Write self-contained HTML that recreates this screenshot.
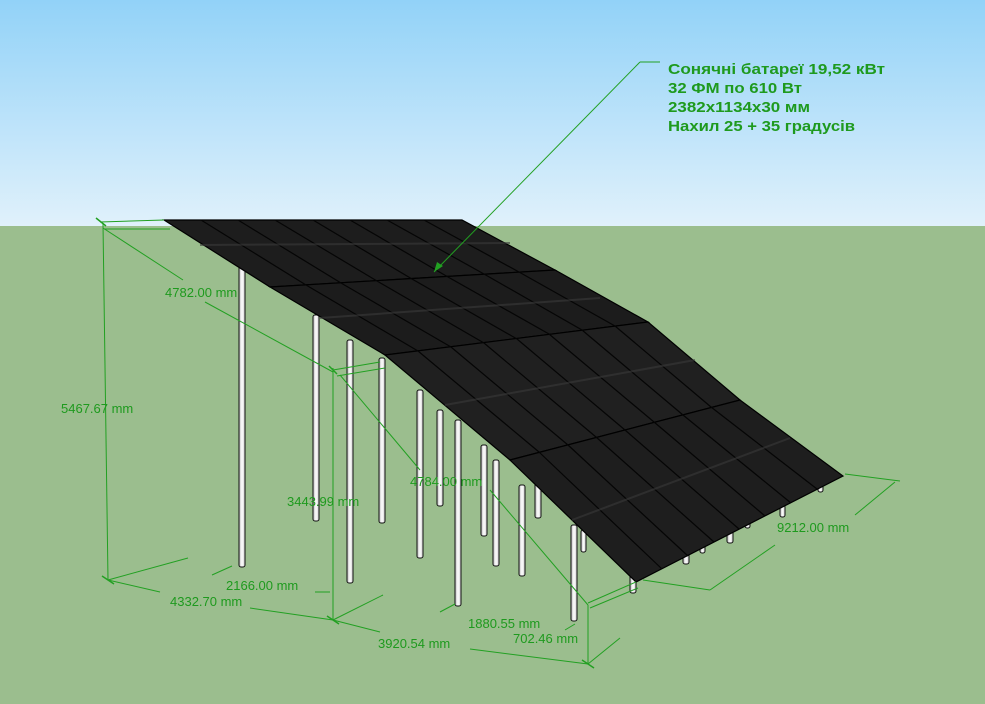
<!DOCTYPE html>
<html><head><meta charset="utf-8"><style>
html,body{margin:0;padding:0;width:985px;height:704px;overflow:hidden}
svg{display:block}
text{font-family:"Liberation Sans","DejaVu Sans",sans-serif;fill:#1e9a1e}
</style></head><body>
<svg width="985" height="704" viewBox="0 0 985 704" xmlns="http://www.w3.org/2000/svg">
<defs>
<linearGradient id="sky" x1="0" y1="0" x2="0" y2="1">
<stop offset="0" stop-color="#92d2f8"/><stop offset="1" stop-color="#e0f1fb"/>
</linearGradient>
<linearGradient id="post" x1="0" y1="0" x2="1" y2="0">
<stop offset="0" stop-color="#bbb"/><stop offset=".5" stop-color="#fff"/><stop offset="1" stop-color="#ccc"/>
</linearGradient>
</defs>
<rect width="985" height="226" fill="url(#sky)"/>
<rect y="226" width="985" height="478" fill="#9bbe8e"/>

<!-- posts -->
<g stroke="#111" stroke-width="1" fill="url(#post)">
<rect x="239" y="265" width="6" height="302" rx="2"/>
<rect x="313" y="315" width="6" height="206" rx="2"/>
<rect x="347" y="340" width="6" height="243" rx="2"/>
<rect x="379" y="358" width="6" height="165" rx="2"/>
<rect x="417" y="390" width="6" height="168" rx="2"/>
<rect x="437" y="410" width="6" height="96" rx="2"/>
<rect x="455" y="420" width="6" height="186" rx="2"/>
<rect x="481" y="445" width="6" height="91" rx="2"/>
<rect x="493" y="460" width="6" height="106" rx="2"/>
<rect x="519" y="485" width="6" height="91" rx="2"/>
<rect x="535" y="480" width="6" height="38" rx="2"/>
<rect x="571" y="525" width="6" height="96" rx="2"/>
<rect x="581" y="530" width="5" height="22" rx="2"/>
<rect x="630" y="575" width="6" height="18" rx="2"/>
<rect x="683" y="548" width="6" height="16" rx="2"/>
<rect x="700" y="543" width="5" height="10" rx="2"/>
<rect x="727" y="528" width="6" height="15" rx="2"/>
<rect x="745" y="518" width="5" height="10" rx="2"/>
<rect x="780" y="505" width="5" height="12" rx="2"/>
<rect x="818" y="484" width="5" height="8" rx="2"/>
</g>

<!-- panels -->
<g stroke="#000" stroke-width="1.2">
<polygon points="164,220 462,220 555,270 270,287" fill="#1d1d1d"/>
<polygon points="270,287 555,270 648,322 385,355" fill="#1c1c1c"/>
<polygon points="385,355 648,322 740,400 510,460" fill="#202020"/>
<polygon points="510,460 740,400 843,476 636,582" fill="#1e1e1e"/>
</g>
<g stroke="#050505" stroke-width="1.2">
<!-- row1 columns -->
<line x1="201" y1="220" x2="306" y2="285"/><line x1="238" y1="220" x2="341" y2="283"/>
<line x1="275" y1="220" x2="377" y2="281"/><line x1="313" y1="220" x2="412" y2="279"/>
<line x1="350" y1="220" x2="448" y2="277"/><line x1="387" y1="220" x2="484" y2="274"/>
<line x1="424" y1="220" x2="519" y2="272"/>
<!-- row2 -->
<line x1="306" y1="285" x2="418" y2="351"/><line x1="341" y1="283" x2="451" y2="347"/>
<line x1="377" y1="281" x2="484" y2="343"/><line x1="412" y1="279" x2="517" y2="339"/>
<line x1="448" y1="277" x2="549" y2="334"/><line x1="484" y1="274" x2="582" y2="330"/>
<line x1="519" y1="272" x2="615" y2="326"/>
<!-- row3 -->
<line x1="418" y1="351" x2="539" y2="452"/><line x1="451" y1="347" x2="568" y2="445"/>
<line x1="484" y1="343" x2="596" y2="437"/><line x1="517" y1="339" x2="625" y2="430"/>
<line x1="549" y1="334" x2="654" y2="422"/><line x1="582" y1="330" x2="683" y2="415"/>
<line x1="615" y1="326" x2="711" y2="407"/>
<!-- row4 -->
<line x1="539" y1="452" x2="662" y2="569"/><line x1="568" y1="445" x2="688" y2="556"/>
<line x1="596" y1="437" x2="714" y2="542"/><line x1="625" y1="430" x2="739" y2="529"/>
<line x1="654" y1="422" x2="765" y2="516"/><line x1="683" y1="415" x2="791" y2="503"/>
<line x1="711" y1="407" x2="817" y2="489"/>
</g>
<g stroke="#3a3a3a" stroke-width="2" opacity=".6">
<line x1="200" y1="245" x2="510" y2="243"/>
<line x1="320" y1="318" x2="600" y2="298"/>
<line x1="445" y1="405" x2="695" y2="360"/>
<line x1="572" y1="520" x2="790" y2="438"/>
</g>

<!-- dimension lines -->
<g stroke="#22a022" stroke-width="1" fill="none">
<line x1="100" y1="222" x2="164" y2="220"/>
<line x1="104" y1="229" x2="170" y2="229"/>
<line x1="103" y1="224" x2="108" y2="580"/>
<line x1="103" y1="228" x2="183" y2="280"/>
<line x1="205" y1="302" x2="333" y2="372"/>
<line x1="333" y1="368" x2="333" y2="620"/>
<line x1="333" y1="370" x2="380" y2="362"/>
<line x1="337" y1="376" x2="385" y2="368"/>
<line x1="340" y1="375" x2="420" y2="470"/>
<line x1="490" y1="490" x2="588" y2="605"/>
<line x1="108" y1="580" x2="188" y2="558"/>
<line x1="108" y1="580" x2="160" y2="592"/>
<line x1="250" y1="608" x2="333" y2="620"/>
<line x1="212" y1="575" x2="232" y2="566"/>
<line x1="315" y1="592" x2="330" y2="592"/>
<line x1="333" y1="620" x2="383" y2="595"/>
<line x1="333" y1="620" x2="380" y2="632"/>
<line x1="470" y1="649" x2="588" y2="664"/>
<line x1="440" y1="612" x2="455" y2="604"/>
<line x1="565" y1="630" x2="575" y2="624"/>
<line x1="588" y1="605" x2="588" y2="664"/>
<line x1="588" y1="603" x2="636" y2="582"/>
<line x1="590" y1="608" x2="638" y2="588"/>
<line x1="588" y1="664" x2="620" y2="638"/>
<line x1="643" y1="580" x2="710" y2="590"/>
<line x1="710" y1="590" x2="775" y2="545"/>
<line x1="855" y1="515" x2="895" y2="482"/>
<line x1="845" y1="474" x2="900" y2="481"/>
<line x1="434" y1="272" x2="640" y2="62"/>
<line x1="640" y1="62" x2="660" y2="62"/>
</g>
<g stroke="#22a022" stroke-width="1.5">
<line x1="102" y1="576" x2="114" y2="584"/><line x1="327" y1="616" x2="339" y2="624"/>
<line x1="582" y1="660" x2="594" y2="668"/><line x1="329" y1="366" x2="337" y2="374"/>
<line x1="96" y1="218" x2="106" y2="226"/>
</g>
<polygon points="434,272 437,262 443,266" fill="#22a022"/>

<!-- labels -->
<g font-size="13">
<text x="165" y="297">4782.00 mm</text>
<text x="61" y="413">5467.67 mm</text>
<text x="287" y="506">3443.99 mm</text>
<text x="410" y="486">4784.00 mm</text>
<text x="777" y="532">9212.00 mm</text>
<text x="226" y="590">2166.00 mm</text>
<text x="170" y="606">4332.70 mm</text>
<text x="468" y="628">1880.55 mm</text>
<text x="513" y="643">702.46 mm</text>
<text x="378" y="648">3920.54 mm</text>
</g>
<g font-size="15" font-weight="bold">
<text x="668" y="74" textLength="217" lengthAdjust="spacingAndGlyphs">Сонячні батареї 19,52 кВт</text>
<text x="668" y="93" textLength="134" lengthAdjust="spacingAndGlyphs">32 ФМ по 610 Вт</text>
<text x="668" y="112" textLength="142" lengthAdjust="spacingAndGlyphs">2382x1134x30 мм</text>
<text x="668" y="131" textLength="187" lengthAdjust="spacingAndGlyphs">Нахил 25 + 35 градусів</text>
</g>
</svg>
</body></html>
